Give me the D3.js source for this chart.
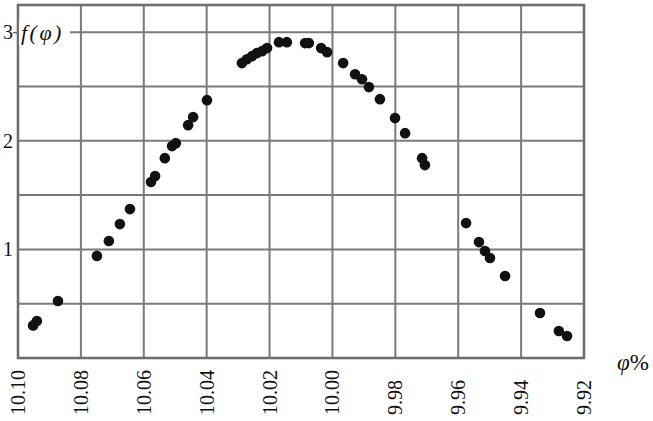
<!DOCTYPE html>
<html>
<head>
<meta charset="utf-8">
<script src="https://cdn.jsdelivr.net/npm/d3@7"></script>
<style>
    body { margin: 0; background: #fff; }
    svg { display: block; }
    .grid line { stroke: #7a7a7a; stroke-width: 2; }
    .frame { fill: none; stroke: #6e6e6e; stroke-width: 2.6; }
    .lbl { font-family: "Times New Roman", Times, "Liberation Serif", "DejaVu Serif", "Noto Serif", serif; font-size: 20px; fill: #111; }
</style>
</head>
<body>
<svg></svg>
<script>
"use strict";

var svg_width = 653;
var svg_height = 421;

// measured points, phi in %
var phi = [10.0952, 10.0940, 10.0873, 10.0749, 10.0711, 10.0676, 10.0644, 10.0577, 10.0564,
    10.0533, 10.0510, 10.0498, 10.0459, 10.0443, 10.0399, 10.0288, 10.0272, 10.0256, 10.0240,
    10.0224, 10.0208, 10.0170, 10.0145, 10.0087, 10.0075, 10.0036, 10.0017, 9.9966, 9.9928,
    9.9906, 9.9884, 9.9849, 9.9801, 9.9769, 9.9715, 9.9706, 9.9575, 9.9534, 9.9515, 9.9499,
    9.9451, 9.9340, 9.9280, 9.9254];
var fphi = [0.30, 0.34, 0.525, 0.94, 1.077, 1.233, 1.371, 1.62, 1.675,
    1.84, 1.951, 1.978, 2.144, 2.218, 2.374, 2.715, 2.751, 2.779, 2.807,
    2.825, 2.853, 2.908, 2.908, 2.899, 2.899, 2.853, 2.816, 2.715, 2.613,
    2.567, 2.494, 2.383, 2.209, 2.070, 1.840, 1.776, 1.242, 1.067, 0.985, 0.920,
    0.755, 0.414, 0.248, 0.202];

var xTicks = [10.10, 10.08, 10.06, 10.04, 10.02, 10.00, 9.98, 9.96, 9.94, 9.92];
var xGrid = [10.08, 10.06, 10.04, 10.02, 10.00, 9.98, 9.96, 9.94];
var yTicks = [1, 2, 3];
var yGrid = [0.5, 1, 1.5, 2, 2.5, 3];

var data = phi.map(function(d, i) { return {phi: d, f: fphi[i]}; });

var svg = d3.select("svg")
    .attr("width", svg_width)
    .attr("height", svg_height);

var xScale = d3.scaleLinear()
    .domain([10.10, 9.92])
    .range([18, 584]);
var yScale = d3.scaleLinear()
    .domain([0, 3.25])
    .range([358, 5]);

// grid
var grid = svg.append("g").attr("class", "grid");
grid.selectAll(".vline")
    .data(xGrid)
    .enter().append("line")
    .attr("class", "vline")
    .attr("x1", function(d) { return xScale(d); })
    .attr("x2", function(d) { return xScale(d); })
    .attr("y1", yScale(0))
    .attr("y2", yScale(3.25));
grid.selectAll(".hline")
    .data(yGrid)
    .enter().append("line")
    .attr("class", "hline")
    .attr("x1", xScale(10.10))
    .attr("x2", xScale(9.92))
    .attr("y1", function(d) { return yScale(d); })
    .attr("y2", function(d) { return yScale(d); });

svg.append("rect")
    .attr("class", "frame")
    .attr("x", xScale(10.10))
    .attr("y", yScale(3.25))
    .attr("width", xScale(9.92) - xScale(10.10))
    .attr("height", yScale(0) - yScale(3.25));

// x tick labels, rotated
svg.append("g")
    .selectAll("text")
    .data(xTicks)
    .enter().append("text")
    .attr("class", "lbl")
    .attr("text-anchor", "start")
    .attr("dy", "0.35em")
    .attr("transform", function(d) { return "translate(" + xScale(d) + ",415) rotate(-90)"; })
    .text(function(d) { return d3.format(".2f")(d); });

// y axis: labels only, a short tick at 3
var yAxis = svg.append("g")
    .attr("transform", "translate(" + xScale(10.10) + ",0)")
    .call(d3.axisLeft(yScale).tickValues(yTicks).tickSize(5).tickPadding(0).tickFormat(d3.format("d")));
yAxis.attr("font-family", null).attr("font-size", null);
yAxis.select(".domain").remove();
yAxis.selectAll(".tick line")
    .attr("stroke", "#6e6e6e")
    .attr("stroke-width", 1.5)
    .filter(function(d) { return d !== 3; })
    .remove();
yAxis.selectAll(".tick text")
    .attr("class", "lbl");

// f(phi) label sitting on the top gridline
var yLabel = svg.append("g").attr("transform", "translate(21," + yScale(3) + ")");
yLabel.append("rect")
    .attr("x", -2).attr("y", -13)
    .attr("width", 51).attr("height", 26)
    .attr("fill", "#fff");
yLabel.append("text")
    .attr("class", "lbl")
    .attr("dy", "0.35em")
    .style("font-size", "22px")
    .style("letter-spacing", "2.5px")
    .style("font-style", "italic")
    .text("f(φ)");

svg.append("text")
    .attr("class", "lbl")
    .attr("x", 617)
    .attr("y", 370)
    .style("font-size", "23px")
    .html('<tspan font-style="italic">φ</tspan>%');

// points
svg.append("g")
    .selectAll(".point")
    .data(data)
    .enter().append("circle")
    .attr("class", "point")
    .attr("r", 5.3)
    .attr("fill", "#111")
    .attr("cx", function(d) { return xScale(d.phi); })
    .attr("cy", function(d) { return yScale(d.f); });
</script>
</body>
</html>
